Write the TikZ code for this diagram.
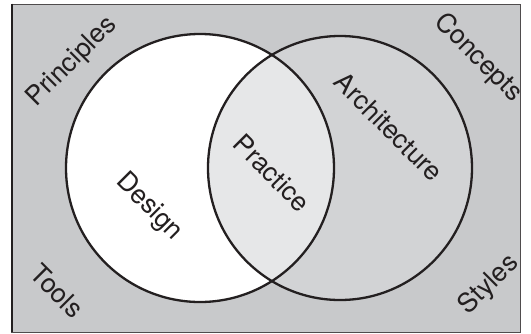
\documentclass[tikz,border=0pt]{standalone}
\usepackage{fontspec}
\setmainfont{TeX Gyre Heros}
\definecolor{outergray}{HTML}{C8C9CB}
\definecolor{rightgray}{HTML}{D2D3D5}
\definecolor{midgray}{HTML}{E6E7E8}
\definecolor{ink}{HTML}{231F20}
\begin{document}
\begin{tikzpicture}[x=1pt,y=-1pt,
  lbl/.style={font=\fontsize{26.5}{26.5}\selectfont, text=ink, inner sep=0pt},
  ring/.style={draw=ink, line width=2.3pt}]
\useasboundingbox (0,0) rectangle (531,333);
\node[draw=ink!80, line width=0.9pt, fill=outergray, minimum width=509pt, minimum height=328pt, inner sep=0pt] (frame) at (266,168) {};
\draw[ink, line width=2.8pt] (frame.north west) ++(1pt,0) coordinate (fl1) -- (frame.south west -| fl1);
\fill[rightgray] (340,168) circle[radius=132];
\fill[white] (200,168) circle[radius=134];
\begin{scope}
  \clip (200,168) circle[radius=134];
  \fill[midgray] (340,168) circle[radius=132];
\end{scope}
\node[ring, circle, minimum size=268pt, inner sep=0pt] (L) at (200,168) {};
\node[ring, circle, minimum size=264pt, inner sep=0pt] (R) at (340,168) {};
\node[lbl, rotate=45] (principles) at (72,62) {Principles};
\node[lbl, rotate=-45] (concepts) at (478,58) {Concepts};
\node[lbl, rotate=-45] (tools) at (57,291) {Tools};
\node[lbl, rotate=45] (styles) at (489,285) {Styles};
\node[lbl, rotate=-45] (design) at (149,207) {Design};
\node[lbl, rotate=-45] (practice) at (272,173) {Practice};
\node[lbl, rotate=-45] (arch) at (389,127) {Architecture};
\end{tikzpicture}
\end{document}
